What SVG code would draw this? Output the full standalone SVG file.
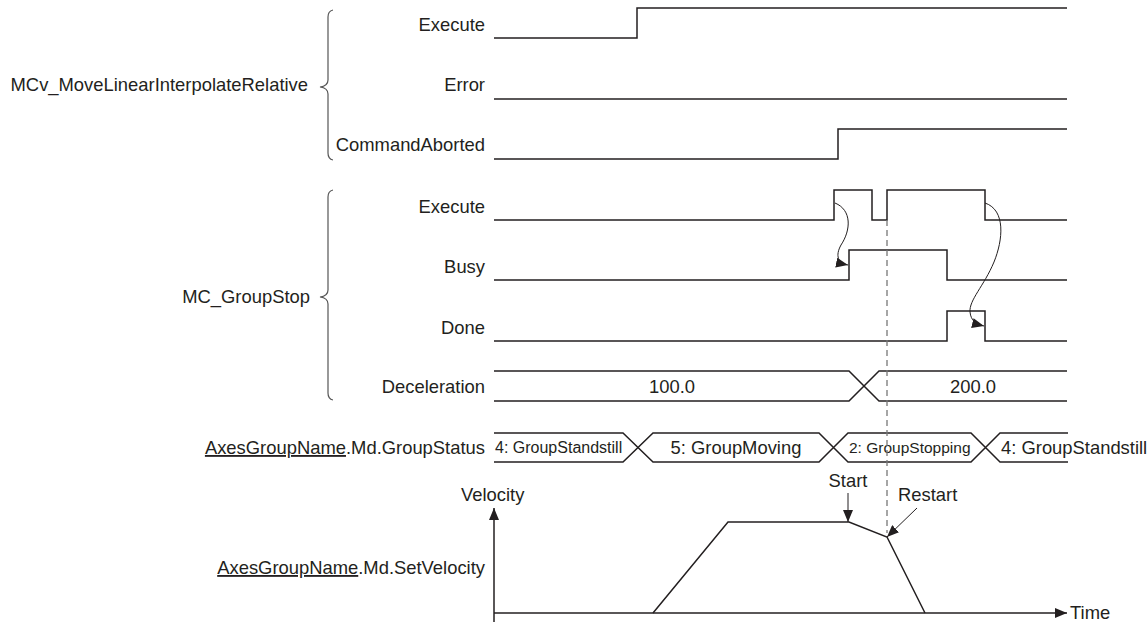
<svg xmlns="http://www.w3.org/2000/svg" width="1148" height="623" viewBox="0 0 1148 623">
<style>
text{font-family:"Liberation Sans",Arial,sans-serif;fill:#231f20;font-size:18.4px}
.r{text-anchor:end}
.m{text-anchor:middle}
.s{font-size:16px}
.sig{fill:none;stroke:#231f20;stroke-width:1.5}
.br{fill:none;stroke:#555;stroke-width:1.2}
.con{fill:none;stroke:#231f20;stroke-width:1}
.dash{fill:none;stroke:#777;stroke-width:1.3;stroke-dasharray:6 4}
</style>
<defs>
<marker id="ah" viewBox="0 0 12 10" refX="12" refY="5" markerWidth="12" markerHeight="10" markerUnits="userSpaceOnUse" orient="auto">
<path d="M0,0 L12,5 L0,10 Z" fill="#231f20"/>
</marker>
</defs>
<rect width="1148" height="623" fill="#fff"/>

<g id="mcv-group">
<text class="r" x="308" y="91">MCv_MoveLinearInterpolateRelative</text>
<path class="br" d="M333,10 Q328,11 328,17 L328,80 Q328,86 320,87 Q328,88 328,94 L328,153 Q328,159 333,160"/>
</g>
<g id="mcv-execute">
<text class="r" x="485" y="31">Execute</text>
<path class="sig" d="M494,38 H637 V8 H1067"/>
</g>
<g id="mcv-error">
<text class="r" x="485" y="91">Error</text>
<path class="sig" d="M494,99 H1067"/>
</g>
<g id="mcv-aborted">
<text class="r" x="485" y="151">CommandAborted</text>
<path class="sig" d="M494,159 H838 V129 H1067"/>
</g>

<g id="stop-group">
<text class="r" x="310" y="303">MC_GroupStop</text>
<path class="br" d="M333,190 Q328,191 328,197 L328,290 Q328,296 320,297 Q328,298 328,304 L328,393 Q328,399 333,400"/>
</g>
<g id="stop-execute">
<text class="r" x="485" y="213">Execute</text>
<path class="sig" d="M494,220 H834 V190 H872 V220 H887 V190 H985 V220 H1067"/>
</g>
<g id="stop-busy">
<text class="r" x="485" y="273">Busy</text>
<path class="sig" d="M494,280 H849 V250 H947 V280 H1067"/>
</g>
<g id="stop-done">
<text class="r" x="485" y="334">Done</text>
<path class="sig" d="M494,341 H947 V311 H985 V341 H1067"/>
</g>
<g id="stop-decel">
<text class="r" x="485" y="393">Deceleration</text>
<path class="sig" d="M494,371 H849 L879,401 H1067 M494,401 H849 L879,371 H1067"/>
<text class="m" x="672" y="393">100.0</text>
<text class="m" x="973" y="393">200.0</text>
</g>

<g id="group-status">
<text class="r" x="485" y="454"><tspan text-decoration="underline">AxesGroupName</tspan>.Md.GroupStatus</text>
<path class="sig" d="M494,433 H623 L653,462 H819 L848,433 H971 L1000,462 H1068 M494,462 H623 L653,433 H819 L848,462 H971 L1000,433 H1068"/>
<text class="s" x="495" y="453">4: GroupStandstill</text>
<text class="m" x="736" y="454">5: GroupMoving</text>
<text x="849" y="453" style="font-size:15.5px">2: GroupStopping</text>
<text x="1001" y="454">4: GroupStandstill</text>
</g>

<g id="set-velocity">
<text class="r" x="485" y="574"><tspan text-decoration="underline">AxesGroupName</tspan>.Md.SetVelocity</text>
<text x="461" y="501">Velocity</text>
<text x="1070" y="619">Time</text>
<path class="sig" d="M494,622 V508" marker-end="url(#ah)"/>
<path class="sig" d="M494,613 H1067" marker-end="url(#ah)"/>
<path class="sig" d="M653,613 L728,522 H849 L887,537 L925,613"/>
<text class="m" x="848" y="487">Start</text>
<text x="898" y="501">Restart</text>
</g>

<g id="connectors">
<path class="dash" d="M887,220 V533"/>
<path class="con" d="M835,203 C852,210 851,230 841,245 C835,256 838,263 848,265" marker-end="url(#ah)"/>
<path class="con" d="M985,203 C1006,210 1003,240 994,262 C984,286 969,300 970,312 C971,321 976,324 984,326" marker-end="url(#ah)"/>
<path class="con" d="M848,493 V522" marker-end="url(#ah)"/>
<path class="con" d="M917,508 L887,537" marker-end="url(#ah)"/>
</g>
</svg>
